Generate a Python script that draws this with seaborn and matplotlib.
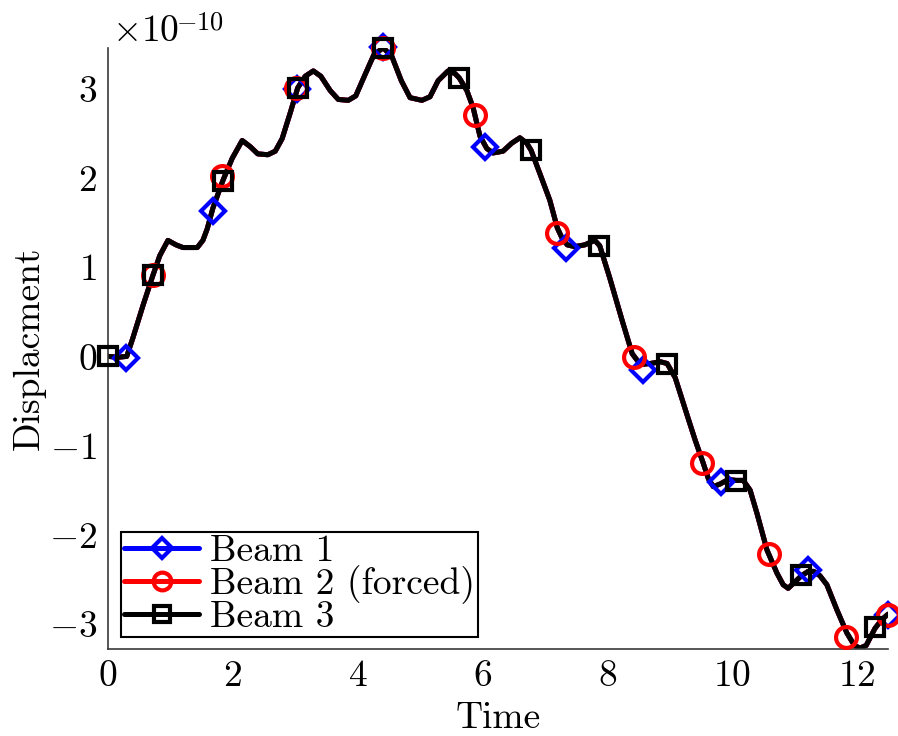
import matplotlib
matplotlib.use("Agg")
import matplotlib.pyplot as plt
from matplotlib.lines import Line2D
from matplotlib.ticker import FixedLocator, FuncFormatter
import seaborn as sns

# Displacement history (units of 1e-10), shared by the three beams
time = [0.00, 0.16, 0.30, 0.40, 0.56, 0.72, 0.83, 0.96, 1.09, 1.20, 1.43, 1.52, 1.59, 1.68,
        1.84, 1.99, 2.15, 2.28, 2.40, 2.56, 2.68, 2.79, 2.92, 3.04, 3.16, 3.29, 3.41, 3.56,
        3.69, 3.85, 3.97, 4.12, 4.26, 4.41, 4.55, 4.70, 4.84, 5.03, 5.16, 5.29, 5.45, 5.56,
        5.63, 5.75, 5.85, 5.96, 6.07, 6.17, 6.33, 6.47, 6.60, 6.71, 6.78, 6.92, 7.08, 7.20,
        7.28, 7.36, 7.48, 7.64, 7.80, 7.88, 8.04, 8.24, 8.40, 8.53, 8.69, 8.85, 8.96, 9.09,
        9.29, 9.41, 9.54, 9.62, 9.70, 9.81, 9.94, 10.06, 10.18, 10.29, 10.40, 10.56, 10.72,
        10.82, 10.90, 10.99, 11.11, 11.22, 11.31, 11.41, 11.52, 11.68, 11.84, 11.96, 12.05,
        12.15, 12.29, 12.40, 12.50]
displacement = [0.00, -0.01, 0.00, 0.21, 0.57, 0.91, 1.13, 1.30, 1.25, 1.22, 1.22, 1.30, 1.43,
                1.66, 1.97, 2.22, 2.42, 2.35, 2.27, 2.26, 2.30, 2.44, 2.73, 3.01, 3.14, 3.20,
                3.14, 2.98, 2.88, 2.87, 2.92, 3.16, 3.38, 3.46, 3.36, 3.09, 2.90, 2.87, 2.91,
                3.09, 3.20, 3.17, 3.12, 2.98, 2.79, 2.47, 2.33, 2.28, 2.30, 2.39, 2.45, 2.39,
                2.31, 2.05, 1.75, 1.44, 1.32, 1.25, 1.23, 1.25, 1.30, 1.24, 0.88, 0.40, 0.03,
                -0.09, -0.08, -0.06, -0.08, -0.24, -0.68, -0.94, -1.20, -1.37, -1.46, -1.43,
                -1.38, -1.39, -1.39, -1.50, -1.76, -2.17, -2.43, -2.56, -2.60, -2.54, -2.46,
                -2.41, -2.41, -2.46, -2.56, -2.84, -3.10, -3.24, -3.27, -3.24, -3.05, -2.95,
                -2.89]

# Sampled output points of each beam
beam1_t = [0.29, 1.68, 3.03, 4.41, 6.04, 7.34, 8.57, 9.82, 11.22, 12.50]
beam1_y = [-0.02, 1.63, 3.00, 3.47, 2.35, 1.21, -0.15, -1.41, -2.39, -2.90]
beam2_t = [0.72, 1.83, 3.01, 4.41, 5.88, 7.20, 8.43, 9.52, 10.59, 11.83, 12.50]
beam2_y = [0.91, 2.02, 3.01, 3.46, 2.71, 1.38, -0.01, -1.20, -2.22, -3.15, -2.90]
beam3_t = [0.00, 0.72, 1.84, 3.04, 4.41, 5.63, 6.78, 7.87, 8.96, 10.06, 11.11, 12.29]
beam3_y = [0.00, 0.91, 1.97, 3.01, 3.46, 3.12, 2.31, 1.24, -0.08, -1.40, -2.45, -3.03]

labels = ["Beam 1", "Beam 2 (forced)", "Beam 3"]
x_ticks = [0, 2, 4, 6, 8, 10, 12]
y_ticks = [-3, -2, -1, 0, 1, 2, 3]
colors = ["#0000ff", "#ff0000", "#000000"]
markers = ["D", "o", "s"]
msizes = [12, 15, 13]
SCALE = 1e-10
FS = 27

sns.set_theme(style="white")
plt.rcParams.update({
    "font.family": "serif",
    "font.serif": ["cmr10", "DejaVu Serif"],
    "mathtext.fontset": "cm",
    "axes.formatter.use_mathtext": True,
    "text.color": "black",
    "axes.labelcolor": "black",
})

fig = plt.figure(figsize=(8.98, 7.36), dpi=100)
ax = fig.add_axes([0.1203, 0.1182, 0.8686, 0.8170])

series = [(beam1_t, beam1_y), (beam2_t, beam2_y), (beam3_t, beam3_y)]
lw = 3.6
for (mt, my), c, m, ms in zip(series, colors, markers, msizes):
    sns.lineplot(x=time, y=[v * SCALE for v in displacement], ax=ax, color=c,
                 linewidth=lw, sort=False, estimator=None, legend=False,
                 solid_joinstyle="round", solid_capstyle="round")
    ax.plot(mt, [v * SCALE for v in my], linestyle="none", marker=m, markersize=ms,
            markerfacecolor="none", markeredgecolor=c, markeredgewidth=3.0,
            clip_on=False, zorder=3)

ax.set_xlim(0, 12.5)
ax.set_ylim(-3.28 * SCALE, 3.46 * SCALE)
ax.xaxis.set_major_locator(FixedLocator(x_ticks))
ax.yaxis.set_major_locator(FixedLocator([v * SCALE for v in y_ticks]))
ax.xaxis.set_major_formatter(FuncFormatter(lambda v, p: rf"${v:.0f}$"))
ax.yaxis.set_major_formatter(FuncFormatter(lambda v, p: rf"${round(v / SCALE):d}$"))

# Scale factor of the y axis, written as a base and a raised exponent
ax.text(0.005, 1.011, r"$\times10$", transform=ax.transAxes, fontsize=FS,
        ha="left", va="baseline", color="black")
ax.text(0.0875, 1.030, r"$-10$", transform=ax.transAxes, fontsize=19,
        ha="left", va="baseline", color="black")

for side in ("top", "right"):
    ax.spines[side].set_visible(False)
for side in ("left", "bottom"):
    ax.spines[side].set_color("#3a3a3a")
    ax.spines[side].set_linewidth(1.2)
ax.tick_params(direction="in", length=7, width=1.2, color="#3a3a3a",
               labelsize=FS, labelcolor="black", pad=8)

ax.set_xlabel("Time", fontsize=FS, labelpad=6, color="black")
ax.set_ylabel("Displacment", fontsize=FS, labelpad=2, color="black")

handles = [Line2D([0], [0], color=c, linewidth=lw, marker=m, markersize=ms * 0.85,
                  markerfacecolor="none", markeredgecolor=c, markeredgewidth=3.0)
           for c, m, ms in zip(colors, markers, msizes)]
leg = ax.legend(handles, labels, loc="lower left", bbox_to_anchor=(0.0167, 0.02),
                borderaxespad=0, fontsize=FS, frameon=True, fancybox=False,
                handlelength=2.0, handletextpad=0.3, labelspacing=-0.08,
                borderpad=0.08, labelcolor="black")
leg.get_frame().set_edgecolor("black")
leg.get_frame().set_linewidth(1.5)
leg.get_frame().set_alpha(1)

fig.savefig("out.png", dpi=100)
